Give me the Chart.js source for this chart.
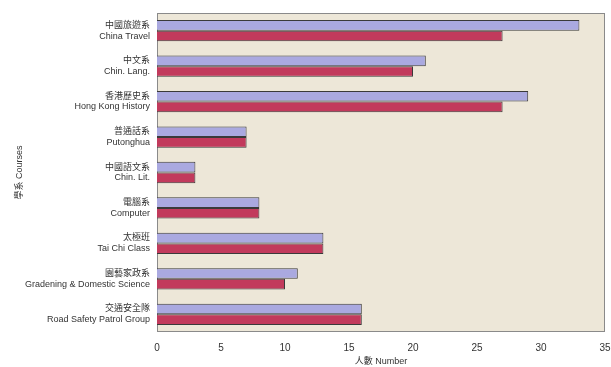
<!DOCTYPE html>
<html>
<head>
<meta charset="utf-8">
<script src="https://cdn.jsdelivr.net/npm/chart.js@4/dist/chart.umd.min.js"></script>
<style>
  html, body { margin: 0; padding: 0; background: #fff; }
  #wrap { width: 611px; height: 367px; }
</style>
</head>
<body>
<div id="wrap"><canvas id="barChart" width="611" height="367"></canvas></div>
<script>
// categorias (chino / ingles)
const cursosZh = ['中國旅遊系', '中文系', '香港歷史系', '普通話系', '中國語文系', '電腦系', '太極班', '園藝家政系', '交通安全隊'];
const cursosEn = ['China Travel', 'Chin. Lang.', 'Hong Kong History', 'Putonghua', 'Chin. Lit.', 'Computer', 'Tai Chi Class', 'Gradening & Domestic Science', 'Road Safety Patrol Group'];
const serieAzul = [33, 21, 29, 7, 3, 8, 13, 11, 16];
const serieRoja = [27, 20, 27, 7, 3, 8, 13, 10, 16];
const ticksX = [0, 5, 10, 15, 20, 25, 30, 35];

const etiquetas = cursosZh.map((zh, i) => [zh, cursosEn[i]]);

// fondo beige del area del grafico
const fondoPlot = {
  id: 'fondoPlot',
  beforeDatasetsDraw(chart) {
    const { ctx, chartArea: a } = chart;
    ctx.save();
    ctx.fillStyle = '#ede7d8';
    ctx.fillRect(a.left, a.top, a.right - a.left, a.bottom - a.top);
    ctx.strokeStyle = '#8a8a8a';
    ctx.lineWidth = 1;
    ctx.strokeRect(a.left + 0.5, a.top + 0.5, a.right - a.left - 1, a.bottom - a.top - 1);
    ctx.restore();
  }
};

const ctx = document.getElementById('barChart').getContext('2d');
new Chart(ctx, {
  type: 'bar',
  data: {
    labels: etiquetas,
    datasets: [{
      label: 'A',
      data: serieAzul,
      backgroundColor: '#aaa9e0',
      borderColor: '#3a3a3a',
      borderWidth: 1
    }, {
      label: 'B',
      data: serieRoja,
      backgroundColor: '#c23a5c',
      borderColor: '#3a3a3a',
      borderWidth: 1
    }]
  },
  options: {
    indexAxis: 'y',
    responsive: false,
    animation: false,
    layout: { padding: { top: 13, right: 0, left: 14, bottom: 0 } },
    datasets: { bar: { categoryPercentage: 0.6, barPercentage: 1.0 } },
    plugins: {
      legend: { display: false },
      tooltip: { enabled: false }
    },
    scales: {
      x: {
        min: 0,
        max: 35,
        afterBuildTicks(scale) { scale.ticks = ticksX.map(v => ({ value: v })); },
        afterFit(scale) { scale.height = 35; scale.paddingRight = 6; scale.paddingLeft = 0; },
        grid: { display: false, drawTicks: false },
        border: { display: false },
        ticks: { color: '#333', font: { family: 'Liberation Sans, Arial', size: 10 }, padding: 10 },
        title: { display: true, text: '人數 Number', color: '#333', font: { family: 'Liberation Sans, Noto Sans CJK TC', size: 9 }, padding: { top: 3, bottom: 0 } }
      },
      y: {
        afterFit(scale) { scale.width = 143; scale.paddingTop = 0; scale.paddingBottom = 0; },
        grid: { display: false, drawTicks: false },
        border: { display: false },
        ticks: { color: '#333', font: { family: 'Liberation Sans, Noto Sans CJK TC', size: 9 }, padding: 7, autoSkip: false },
        title: { display: true, text: '學系 Courses', color: '#333', font: { family: 'Liberation Sans, Noto Sans CJK TC', size: 9 }, padding: 0 }
      }
    }
  },
  plugins: [fondoPlot]
});
</script>
</body>
</html>
